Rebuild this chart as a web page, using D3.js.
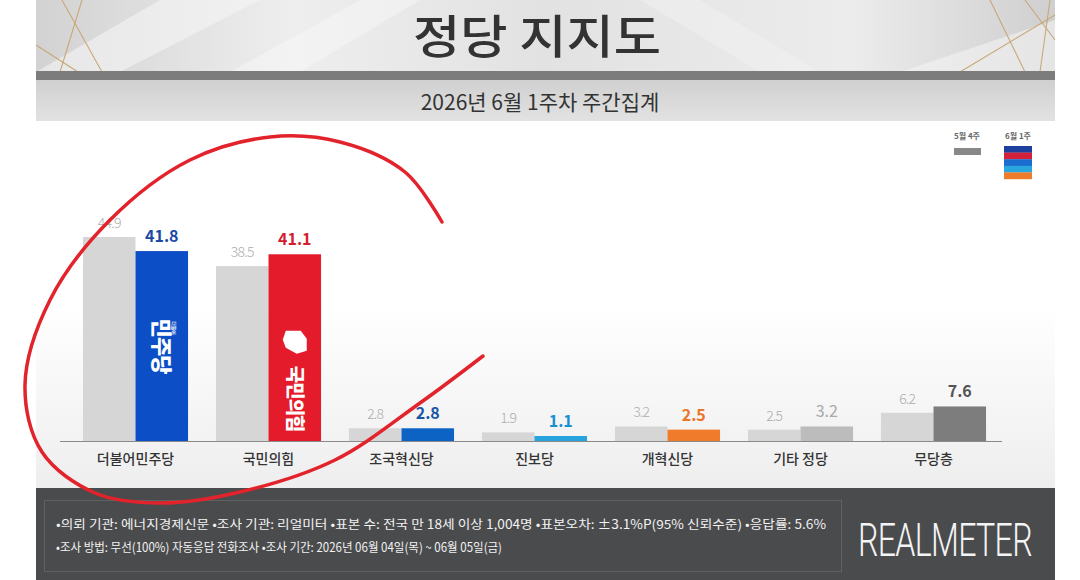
<!DOCTYPE html>
<html>
<head>
<meta charset="utf-8">
<script src="https://cdn.jsdelivr.net/npm/d3@7"></script>
<style>
  body { margin: 0; background: #fff; }
  svg { display: block; font-family: "Noto Sans CJK KR", "Noto Sans", sans-serif; }
</style>
</head>
<body>
<svg id="chart" width="1080" height="580"></svg>
<script>
// data
var parties = ["더불어민주당", "국민의힘", "조국혁신당", "진보당", "개혁신당", "기타 정당", "무당층"];
var prevWeek = [44.9, 38.5, 2.8, 1.9, 3.2, 2.5, 6.2];   // 5월 4주
var thisWeek = [41.8, 41.1, 2.8, 1.1, 2.5, 3.2, 7.6];   // 6월 1주
var barColors = ["#0b4ec6", "#e31b2b", "#0c63c4", "#28a3dc", "#f07b2b", "#bcbcbc", "#7d7d7d"];
var labelColors = ["#1a4aa6", "#d4202e", "#1a55a8", "#1a8fd0", "#ec7428", "#a9a9a9", "#555555"];
var legendLabels = ["5월 4주", "6월 1주"];
var legendStripes = ["#1d3f9e", "#d3213b", "#1b6ccf", "#2ba7e0", "#ef7c2b"];
var footLines = [
  "•의뢰 기관: 에너지경제신문  •조사 기관: 리얼미터 •표본 수: 전국 만 18세 이상 1,004명 •표본오차: ±3.1%P(95% 신뢰수준) •응답률: 5.6%",
  "•조사 방법: 무선(100%) 자동응답 전화조사 •조사 기간: 2026년 06월 04일(목) ~ 06월 05일(금)"
];

var svg = d3.select("#chart");
var defs = svg.append("defs");

var g1 = defs.append("linearGradient").attr("id", "hdr").attr("x1", 0).attr("x2", 1).attr("y1", 0).attr("y2", 0);
g1.append("stop").attr("offset", "0%").attr("stop-color", "#d2d2d2");
g1.append("stop").attr("offset", "25%").attr("stop-color", "#eeeeee");
g1.append("stop").attr("offset", "50%").attr("stop-color", "#e2e2e2");
g1.append("stop").attr("offset", "80%").attr("stop-color", "#ececec");
g1.append("stop").attr("offset", "100%").attr("stop-color", "#cfcfcf");

var g2 = defs.append("linearGradient").attr("id", "sub").attr("x1", 0).attr("x2", 0).attr("y1", 0).attr("y2", 1);
g2.append("stop").attr("offset", "0%").attr("stop-color", "#d0d0d0");
g2.append("stop").attr("offset", "100%").attr("stop-color", "#e2e2e2");

var g3 = defs.append("linearGradient").attr("id", "body").attr("x1", 0).attr("x2", 0).attr("y1", 0).attr("y2", 1);
g3.append("stop").attr("offset", "0%").attr("stop-color", "#ffffff");
g3.append("stop").attr("offset", "50%").attr("stop-color", "#ffffff");
g3.append("stop").attr("offset", "100%").attr("stop-color", "#eeeeee");

// header
svg.append("rect").attr("x", 36).attr("y", 0).attr("width", 1019).attr("height", 72).attr("fill", "url(#hdr)");
// light facets
svg.append("path").attr("d", "M36,72 L160,0 L260,0 L120,72 Z").attr("fill", "#f5f5f5").attr("opacity", 0.6);
svg.append("path").attr("d", "M300,72 L420,0 L360,0 L230,72 Z").attr("fill", "#f7f7f7").attr("opacity", 0.5);
svg.append("path").attr("d", "M900,72 L1055,20 L1055,72 Z").attr("fill", "#f3f3f3").attr("opacity", 0.6);
svg.append("path").attr("d", "M700,0 L820,72 L760,72 L640,0 Z").attr("fill", "#f2f2f2").attr("opacity", 0.5);
// gold lines
var gold = [[36, 45, 78, 72], [82, 0, 60, 72], [62, 0, 102, 72], [960, 72, 1055, 15], [990, 0, 1025, 72], [1050, 0, 1040, 72], [1025, 0, 1055, 40]];
svg.selectAll("line.gold").data(gold).join("line").attr("class", "gold")
  .attr("x1", d => d[0]).attr("y1", d => d[1]).attr("x2", d => d[2]).attr("y2", d => d[3])
  .attr("stroke", "#c8a878").attr("stroke-width", 1.1);
svg.append("text").attr("x", 537).attr("y", 53).attr("text-anchor", "middle")
  .attr("font-size", 46).attr("font-weight", 500).attr("fill", "#333")
  .attr("textLength", 248).attr("lengthAdjust", "spacingAndGlyphs").text("정당 지지도");

svg.append("rect").attr("x", 36).attr("y", 71).attr("width", 1019).attr("height", 9).attr("fill", "#7c7c7c");
svg.append("rect").attr("x", 36).attr("y", 80).attr("width", 1019).attr("height", 41).attr("fill", "url(#sub)");
svg.append("text").attr("x", 540).attr("y", 110).attr("text-anchor", "middle")
  .attr("font-size", 21).attr("fill", "#333").text("2026년 6월 1주차 주간집계");

// chart body
svg.append("rect").attr("x", 36).attr("y", 121).attr("width", 1019).attr("height", 367).attr("fill", "url(#body)");

var base = 441;
var x = d3.scaleBand().domain(parties).range([69, 1000]).paddingInner(0.21).paddingOuter(0.105);
var xs = d3.scaleBand().domain(["prev", "now"]).range([0, x.bandwidth()]);
var y = d3.scaleLinear().domain([0, 44.9]).range([base, 237]);

var rows = parties.map((p, i) => ({p: p, i: i, prev: prevWeek[i], now: thisWeek[i]}));
var grp = svg.selectAll("g.grp").data(rows).join("g").attr("class", "grp")
  .attr("transform", d => "translate(" + x(d.p) + ",0)");

grp.append("rect").attr("x", xs("prev")).attr("y", d => y(d.prev))
  .attr("width", xs.bandwidth()).attr("height", d => base - y(d.prev))
  .attr("fill", "#d6d6d6");
grp.append("rect").attr("x", xs("now")).attr("y", d => y(d.now))
  .attr("width", xs.bandwidth()).attr("height", d => base - y(d.now))
  .attr("fill", d => barColors[d.i]);

grp.append("text").attr("x", xs("prev") + xs.bandwidth() / 2).attr("y", d => y(d.prev) - 9)
  .attr("text-anchor", "middle").attr("font-size", 14).attr("font-weight", 300)
  .attr("letter-spacing", -0.8).attr("fill", "#adadad").text(d => d.prev.toFixed(1));
grp.append("text").attr("x", xs("now") + xs.bandwidth() / 2).attr("y", d => y(d.now) - 9)
  .attr("text-anchor", "middle").attr("font-size", 16).attr("font-weight", d => d.i === 5 ? 400 : 700)
  .attr("fill", d => labelColors[d.i]).text(d => d.now.toFixed(1));

// axis line + category labels
svg.append("line").attr("x1", 60).attr("x2", 1002).attr("y1", base + 0.5).attr("y2", base + 0.5)
  .attr("stroke", "#8a8a8a").attr("stroke-width", 1.2);
svg.selectAll("text.cat").data(parties).join("text").attr("class", "cat")
  .attr("x", d => x(d) + x.bandwidth() / 2).attr("y", 464).attr("text-anchor", "middle")
  .attr("font-size", 14).attr("font-weight", 500).attr("fill", "#333").text(d => d);

// party names inside the two big bars
var cx0 = x(parties[0]) + xs("now") + xs.bandwidth() / 2;
var t0 = svg.append("g").attr("transform", "translate(" + (cx0 - 1) + "," + ((y(thisWeek[0]) + base) / 2) + ") rotate(90)");
t0.append("text").attr("x", 0).attr("y", 7).attr("text-anchor", "middle").attr("font-size", 21)
  .attr("font-weight", 900).attr("fill", "#fff").attr("letter-spacing", -1).text("민주당");
t0.append("text").attr("x", -18).attr("y", -11).attr("text-anchor", "middle").attr("font-size", 5)
  .attr("font-weight", 700).attr("fill", "#fff").text("더불어");

var cx1 = x(parties[1]) + xs("now") + xs.bandwidth() / 2;
var t1 = svg.append("g").attr("transform", "translate(" + cx1 + "," + ((y(thisWeek[1]) + base) / 2 + 51) + ") rotate(90)");
t1.append("text").attr("x", 0).attr("y", 7).attr("text-anchor", "middle").attr("font-size", 19)
  .attr("font-weight", 900).attr("fill", "#fff").attr("letter-spacing", -1).text("국민의힘");
svg.append("path").attr("transform", "translate(" + cx1 + "," + ((y(thisWeek[1]) + base) / 2 - 6) + ")")
  .attr("d", "M-9,-11 L6,-11 L12,-3 L12,9 L2,12 L-9,6 L-12,-2 Z").attr("fill", "#fff");

// legend
svg.selectAll("text.leg").data(legendLabels).join("text").attr("class", "leg")
  .attr("x", (d, i) => [967, 1018][i]).attr("y", 139).attr("text-anchor", "middle")
  .attr("font-size", 8).attr("font-weight", 700).attr("fill", "#666").text(d => d);
svg.append("rect").attr("x", 954).attr("y", 148).attr("width", 27).attr("height", 7).attr("fill", "#888");
svg.selectAll("rect.stripe").data(legendStripes).join("rect").attr("class", "stripe")
  .attr("x", 1004).attr("y", (d, i) => 146 + i * 6.6).attr("width", 28).attr("height", 6.8).attr("fill", d => d);

// footer
svg.append("rect").attr("x", 36).attr("y", 488).attr("width", 1019).attr("height", 92).attr("fill", "#4a4b4d");
svg.append("rect").attr("x", 44.5).attr("y", 500.5).attr("width", 797).attr("height", 71)
  .attr("fill", "none").attr("stroke", "#606164").attr("stroke-width", 1);
svg.selectAll("text.foot").data(footLines).join("text").attr("class", "foot")
  .attr("x", 56).attr("y", (d, i) => 529 + i * 23).attr("font-size", 12.5).attr("fill", "#f2f2f2")
  .attr("textLength", (d, i) => [770, 446][i]).attr("lengthAdjust", "spacingAndGlyphs").text(d => d);
// logo: thin condensed type, squeezed with a transform
var logo = svg.append("text").attr("font-family", "Roboto").attr("font-weight", 300)
  .attr("font-size", 46).attr("fill", "#f4f4f4").attr("letter-spacing", -1).text("REALMETER");
var lw = logo.node().getComputedTextLength();
logo.attr("transform", "translate(858,556) scale(" + (174 / lw) + ",1)");

// red hand-drawn annotation
var loop = [[442, 222], [405, 172], [340, 142], [270, 137], [190, 160], [110, 220], [50, 300], [25, 385],
  [42, 452], [95, 493], [160, 503], [240, 492], [335, 460], [420, 403], [483, 356]];
svg.append("path").attr("d", d3.line().curve(d3.curveCatmullRom)(loop))
  .attr("fill", "none").attr("stroke", "#e3232b").attr("stroke-width", 3.5).attr("stroke-linecap", "round");
</script>
</body>
</html>
